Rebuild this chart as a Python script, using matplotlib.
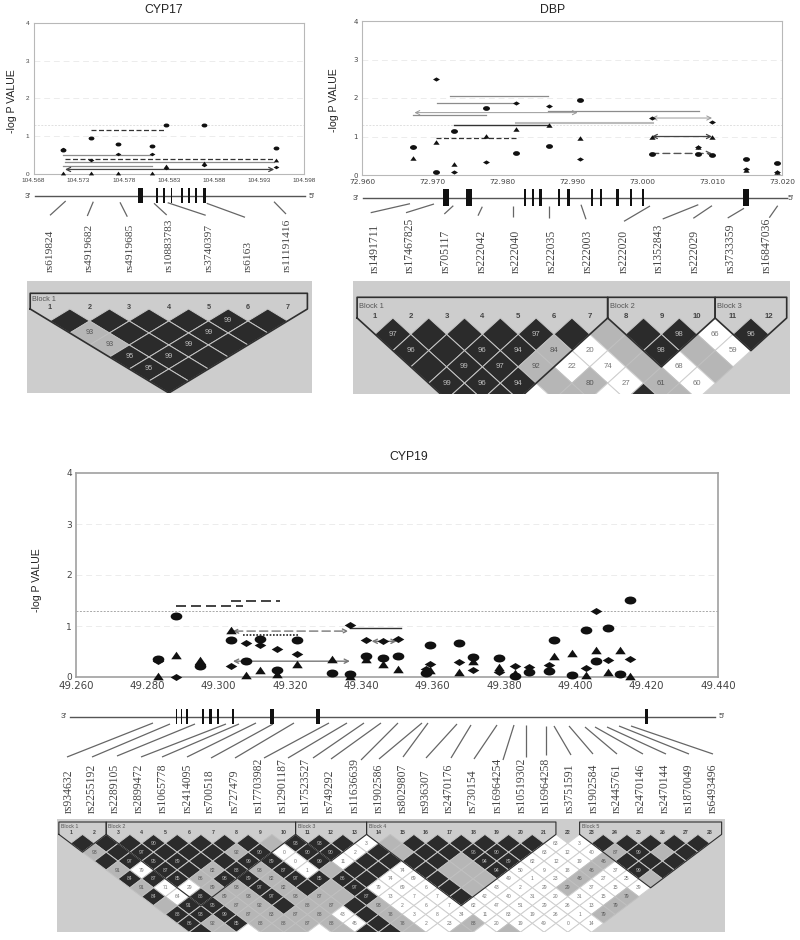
import numpy as np
import matplotlib
matplotlib.use("Agg")
import matplotlib.pyplot as plt
from matplotlib.collections import PolyCollection
from matplotlib.patches import Rectangle
from matplotlib.path import Path
from matplotlib.transforms import Affine2D

W, H = 800, 940
nan = float("nan")

# CYP17 association data
cyp17_pos = [104.5713, 104.57435, 104.57737, 104.58117, 104.58269, 104.58693, 104.5949]
cyp17_circle = [0.63, 0.96, 0.80, 0.73, 1.30, 1.29, 0.68]
cyp17_diamond = [0.65, 0.37, 0.52, 0.54, 0.15, 0.25, 0.18]
cyp17_triangle = [0.02, 0.02, 0.02, 0.03, 0.21, 0.28, 0.37]
cyp17_span_from = [104.57435, 104.5713, 104.5715, 104.5715, 104.5713, 104.5715]
cyp17_span_to = [104.58269, 104.58117, 104.5947, 104.5947, 104.58117, 104.5947]
cyp17_span_y = [1.16, 0.51, 0.40, 0.33, 0.22, 0.12]
cyp17_span_kind = ["dash", "gray", "dash", "gray", "gray", "arrow"]
cyp17_exon = [104.57985, 104.58169, 104.5825, 104.58331, 104.58446, 104.58527, 104.58604, 104.58693]
cyp17_exon_len = [0.00059, 0.00018, 0.00018, 0.00018, 0.00018, 0.00018, 0.00018, 0.00037]
cyp17_snps = ["rs619824", "rs4919682", "rs4919685", "rs10883783", "rs3740397", "rs6163", "rs11191416"]

# DBP association data
dbp_pos = [72.9673, 72.9706, 72.9732, 72.9777, 72.982, 72.9867, 72.9911, 73.0014, 73.008, 73.010, 73.0148, 73.0193]
dbp_circle = [0.74, 0.07, 1.13, 1.74, 0.56, 0.76, 1.94, 0.55, 0.54, 0.52, 0.41, 0.30]
dbp_diamond = [0.74, 2.50, 0.07, 0.34, 1.87, 1.78, 0.42, 1.48, 0.72, 1.38, 0.15, 0.09]
dbp_triangle = [0.43, 0.87, 0.29, 1.02, 1.19, 1.29, 0.95, 1.00, 0.72, 1.00, 0.13, 0.09]
dbp_span_from = [72.9726, 72.9707, 72.9866, 72.9675, 72.9673, 73.0014, 72.982, 72.9731, 73.0014, 72.9706, 73.0014]
dbp_span_to = [72.9866, 72.982, 73.0081, 72.9908, 72.9777, 73.010, 73.0016, 72.9867, 73.010, 72.982, 73.010]
dbp_span_y = [2.06, 1.88, 1.67, 1.62, 1.56, 1.48, 1.35, 1.29, 1.00, 0.95, 0.56]
dbp_span_kind = ["gray", "gray", "gray", "lightarrow", "gray", "lightarrow", "lightwide", "solid", "arrow", "dash", "dasharrow"]
dbp_exon = [72.9720, 72.9753, 72.9833, 72.9844, 72.9855, 72.9881, 72.9895, 72.9929, 72.9942, 72.9965, 72.9984, 73.0002, 73.0149]
dbp_exon_len = [0.00086, 0.00076, 0.0003, 0.0003, 0.0003, 0.0003, 0.0003, 0.0003, 0.0003, 0.0003, 0.0003, 0.0003, 0.00086]
dbp_snps = ["rs1491711", "rs17467825", "rs705117", "rs222042", "rs222040", "rs222035", "rs222003", "rs222020",
            "rs1352843", "rs222029", "rs3733359", "rs16847036"]

# CYP19 association data
cyp19_pos = [49.2831, 49.2880, 49.2948, 49.3034, 49.3076, 49.3116, 49.3164, 49.3219, 49.3317, 49.3368, 49.3413,
             49.3462, 49.3504, 49.3581, 49.3593, 49.3673, 49.3714, 49.3785, 49.3831, 49.3870, 49.3927, 49.3940,
             49.3990, 49.4031, 49.4057, 49.4091, 49.4125, 49.4154]
cyp19_circle = [0.36, 1.19, 0.22, 0.73, 0.31, 0.75, 0.14, 0.72, 0.08, 0.05, 0.42, 0.38, 0.41, 0.07, 0.63, 0.66, 0.40,
                0.38, 0.01, 0.10, 0.11, 0.72, 0.03, 0.92, 0.32, 0.97, 0.05, 1.51]
cyp19_diamond = [0.31, 0.00, 0.25, 0.22, 0.67, 0.63, 0.55, 0.46, nan, 1.01, 0.73, 0.70, 0.75, 0.16, 0.26, 0.29, 0.14,
                 0.10, 0.21, 0.20, 0.24, nan, nan, 0.18, 1.30, 0.33, nan, 0.36]
cyp19_triangle = [0.02, 0.44, 0.33, 0.93, 0.03, 0.14, 0.05, 0.25, 0.35, 0.02, 0.35, 0.25, 0.15, 0.13, 0.14, 0.10, 0.31,
                  0.20, 0.08, nan, nan, 0.42, 0.47, 0.03, 0.52, 0.09, 0.52, 0.01]
cyp19_span_from = [49.2880, 49.3034, 49.3040, 49.3068, 49.3368, 49.3040, 49.3429]
cyp19_span_to = [49.3068, 49.3172, 49.3363, 49.3222, 49.3511, 49.3368, 49.3499]
cyp19_span_y = [1.39, 1.49, 0.90, 0.82, 0.97, 0.31, 0.70]
cyp19_span_kind = ["bigdash", "bigdash", "graydasharrow", "dots", "solid", "grayarrow", "grayarrow"]
cyp19_exon = [49.2882, 49.2896, 49.2912, 49.2956, 49.2977, 49.2997, 49.3041, 49.3150, 49.3278, 49.4200]
cyp19_exon_len = [0.0005, 0.0005, 0.0005, 0.0006, 0.0006, 0.0006, 0.0005, 0.001, 0.001, 0.001]
cyp19_snps = ["rs934632", "rs2255192", "rs2289105", "rs2899472", "rs1065778", "rs2414095", "rs700518", "rs727479",
              "rs17703982", "rs12901187", "rs17523527", "rs749292", "rs11636639", "rs1902586", "rs8029807", "rs936307",
              "rs2470176", "rs730154", "rs16964254", "rs10519302", "rs16964258", "rs3751591", "rs1902584", "rs2445761",
              "rs2470146", "rs2470144", "rs1870049", "rs6493496"]

# LD cells, one string per row of the triangle (K black, G gray, W white, then the D' number)
cyp17_ld = ["K K K K K99 K", "G93 K K K99 K", "G93 K K99 K", "K95 K99 K", "K95 K", "K"]
cyp17_blocks = [(1, 7)]
dbp_ld = ["K97 K K K K97 K G K K98 W66 K96",
          "K96 K K96 K94 G84 W20 G K98 G W59",
          "K K99 K97 G92 W22 W74 G W68 G",
          "K99 K96 K94 G G80 W27 G61 W60",
          "K K W G W K G"]
dbp_blocks = [(1, 7), (8, 10), (11, 12)]
cyp19_ld = ["K K K K90 K K K K G K93 K93 K W3 G K K K K K K W63 W3 K K K K K",
            "G93 K K97 K K K G92 K90 W0 K90 K90 W2 K G K K K96 K90 K W63 W12 W40 G87 K99 G K",
            "K K97 K95 K89 K K K99 K89 W0 K99 W11 K K K K G K94 K89 W62 W12 W19 G46 K K K",
            "G91 W79 K87 K G82 K88 G93 K87 W1 G K K W74 K G G K94 W50 W9 W18 G46 W37 K99 K",
            "K84 K87 K85 G86 K98 K89 G82 K97 K85 K86 K W74 W69 K G G W49 W1 W23 G46 W27 W25 G",
            "G91 W71 W29 G89 G93 K97 G82 K G K97 W79 W69 W6 K G W43 W2 W29 G29 W37 W15 W39",
            "K84 W64 K88 G89 G93 K97 G93 G87 G K87 W73 W7 W7 K W42 W40 W31 W20 W31 W15 G79",
            "G K91 K95 G87 G92 K G88 G87 K G93 W2 W6 W7 W62 W47 W51 W29 W26 W13 G79",
            "K88 K93 K99 G87 G83 G87 G88 W43 K G78 W3 W8 W34 W11 W83 W19 W26 W1 G79",
            "K86 G92 K85 G88 G88 G87 G88 W45 K G78 W2 W23 G88 W20 W19 W49 W0 W14",
            "K G W G G W G K K G W G W G W W W"]
cyp19_blocks = [(1, 2), (3, 10), (11, 13), (14, 21), (23, 28)]

fig = plt.figure(figsize=(W / 100, H / 100), dpi=100)
fig.patch.set_facecolor("white")
plt.rcParams["font.family"] = ["Liberation Sans", "DejaVu Sans"]

# overlay in image pixels for the schematic parts
pix = fig.add_axes([0, 0, 1, 1])
pix.set_xlim(0, W)
pix.set_ylim(H, 0)
pix.axis("off")


def px_axes(x0, y0, x1, y1):
    return fig.add_axes([x0 / W, 1 - y1 / H, (x1 - x0) / W, (y1 - y0) / H])


def flat_marker(path, yscale):
    return path.transformed(Affine2D().scale(1, yscale))


ELLIPSE = flat_marker(Path.unit_circle(), 0.68)
DIAMOND = flat_marker(Path([(-1, 0), (0, 1), (1, 0), (0, -1), (-1, 0)], closed=True), 0.6)
TRIANGLE = flat_marker(Path([(-1, -1), (0, 1), (1, -1), (-1, -1)], closed=True), 0.72)

SPAN = {
    "dash": dict(color="#333333", ls=(0, (4, 2)), lw=0.9, arrow=None),
    "gray": dict(color="#8c8c8c", ls="-", lw=0.9, arrow=None),
    "arrow": dict(color="#444444", ls="-", lw=0.9, arrow="<->"),
    "solid": dict(color="#333333", ls="-", lw=1.0, arrow=None),
    "lightarrow": dict(color="#999999", ls="-", lw=0.7, arrow="<->"),
    "lightwide": dict(color="#bbbbbb", ls="-", lw=1.5, arrow=None),
    "dasharrow": dict(color="#555555", ls=(0, (5, 3)), lw=1.0, arrow="->"),
    "bigdash": dict(color="#222222", ls=(0, (6, 3)), lw=1.2, arrow=None),
    "graydasharrow": dict(color="#777777", ls=(0, (6, 3)), lw=1.0, arrow="<->"),
    "dots": dict(color="#222222", ls=(0, (1, 1)), lw=1.2, arrow=None),
    "grayarrow": dict(color="#777777", ls="-", lw=1.0, arrow="<->"),
}


def assoc_panel(box, xlim, xticks, pos, circle, diamond, triangle, span_from, span_to, span_y, span_kind,
                msize, tick_font, tick_size, ytick_size, edge, edge_w, thr_color):
    ax = px_axes(*box)
    ax.set_xlim(*xlim)
    ax.set_ylim(0, 4)
    ax.set_xticks(xticks)
    ax.set_xticklabels(["%.3f" % t for t in xticks], family=tick_font, fontsize=tick_size, color="#444444")
    ax.set_yticks([0, 1, 2, 3, 4])
    ax.set_yticklabels(["0", "1", "2", "3", "4"], family=tick_font, fontsize=ytick_size, color="#444444")
    ax.tick_params(length=0, pad=3)
    for sp in ax.spines.values():
        sp.set_color(edge)
        sp.set_linewidth(edge_w)
    for v in [1, 2, 3]:
        ax.axhline(v, color="#ececec", lw=0.7, ls=(0, (6, 4)), zorder=1)
    ax.axhline(1.3, color=thr_color, lw=0.7, ls=(0, (2, 1.5)), zorder=1)
    for a, b, y, kind in zip(span_from, span_to, span_y, span_kind):
        st = SPAN[kind]
        if st["arrow"]:
            ax.annotate("", xy=(b, y), xytext=(a, y), zorder=2,
                        arrowprops=dict(arrowstyle=st["arrow"] + ",head_length=0.3,head_width=0.15", color=st["color"],
                                        ls=st["ls"], lw=st["lw"], shrinkA=0, shrinkB=0))
        else:
            ax.plot([a, b], [y, y], color=st["color"], ls=st["ls"], lw=st["lw"], zorder=2)
    ax.plot(pos, circle, ls="", marker=ELLIPSE, ms=msize, color="#111111", mew=0, clip_on=False, zorder=3)
    ax.plot(pos, diamond, ls="", marker=DIAMOND, ms=msize, color="#111111", mew=0, clip_on=False, zorder=3)
    ax.plot(pos, triangle, ls="", marker=TRIANGLE, ms=msize * 0.9, color="#111111", mew=0, clip_on=False, zorder=3)
    return ax


def gene_track(box, xlim, exon, exon_len, line_from, line_to):
    tr = px_axes(*box)
    tr.set_xlim(*xlim)
    tr.set_ylim(0, 1)
    tr.axis("off")
    tr.plot([line_from, line_to], [0.45, 0.45], transform=tr.transAxes, color="#555555", lw=1.0, clip_on=False)
    tr.bar(exon, 1, width=exon_len, bottom=0, color="#111111", clip_on=False, zorder=3)


def snp_labels(names, xs, bottom, size, stems):
    for name, x in zip(names, xs):
        pix.text(x, bottom, name, rotation=90, ha="center", va="bottom", family="Liberation Serif", fontsize=size,
                 color="#444444")
    for x0, y0, x1, y1 in stems:
        pix.plot([x0, x1], [y0, y1], color="#666666", lw=0.9, solid_capstyle="butt")


def ld_plot(rows, blocks, x0, dx, y1, h, rect, top_y, num_y, block_y, cell_size, num_size, block_size, line_w):
    bg = Rectangle((rect[0], rect[1]), rect[2] - rect[0], rect[3] - rect[1], facecolor="#cdcdcd", edgecolor="none",
                   zorder=1)
    pix.add_patch(bg)
    polys, faces, edges = [], [], []
    face = {"K": "#2b2b2b", "G": "#b6b6b6", "W": "#ffffff"}
    edge = {"K": "#c6c6c6", "G": "#c0c0c0", "W": "#cfcfcf"}
    ink = {"K": "#bdbdbd", "G": "#555555", "W": "#777777"}
    for r, row in enumerate(rows):
        d = r + 1
        cy = y1 + r * h
        for k, cell in enumerate(row.split()):
            cx = x0 + (k + d / 2) * dx
            polys.append([(cx - dx / 2, cy), (cx, cy - h), (cx + dx / 2, cy), (cx, cy + h)])
            faces.append(face[cell[0]])
            edges.append(edge[cell[0]])
            if len(cell) > 1 and cy < rect[3] - 2:
                pix.text(cx, cy, cell[1:], ha="center", va="center", fontsize=cell_size, color=ink[cell[0]], zorder=4)
    coll = PolyCollection(polys, facecolors=faces, edgecolors=edges, linewidths=0.7, zorder=2)
    pix.add_collection(coll)
    coll.set_clip_path(bg)
    n = len(rows[0].split()) + 1
    for i in range(n):
        pix.text(x0 + i * dx, num_y, str(i + 1), ha="center", va="center", fontsize=num_size, fontweight="bold",
                 color="#444444", zorder=4)
    for num, (a, b) in enumerate(blocks):
        left = x0 + (a - 1) * dx - dx / 2
        right = x0 + (b - 1) * dx + dx / 2
        apex_x = x0 + (a + b - 2) * dx / 2
        apex_y = y1 + (b - a) * h
        line, = pix.plot([left, left, right, right, apex_x, left],
                         [y1 - h, top_y, top_y, y1 - h, apex_y, y1 - h], color="#2f2f2f", lw=line_w, zorder=3)
        line.set_clip_path(bg)
        pix.text(left + 2, block_y, "Block %d" % (num + 1), ha="left", va="center",
                 fontsize=block_size, color="#555555", zorder=4)


# CYP17
assoc_panel((33.5, 22.7, 304, 174), (104.568, 104.598), [104.568, 104.573, 104.578, 104.583, 104.588, 104.593, 104.598],
            cyp17_pos, cyp17_circle, cyp17_diamond, cyp17_triangle, cyp17_span_from, cyp17_span_to, cyp17_span_y,
            cyp17_span_kind, 4.2, "Liberation Sans", 4.6, 4.6, "#b8b8b8", 0.8, "#e0e0e0")
gene_track((33.5, 188, 304, 203), (104.568, 104.598), cyp17_exon, cyp17_exon_len, 0.005, 1.005)
snp_labels(cyp17_snps, [50, 89.3, 130, 169.3, 209, 248.3, 287.7], 272.5, 8.2,
           [(65.7, 201, 50, 215.3), (93.3, 201.7, 87.3, 216), (120, 202.3, 127.3, 216.7), (154, 203.3, 166.7, 215),
            (167.7, 202.7, 205.7, 215.3), (206.7, 203.3, 245, 217.3), (274, 201.7, 286, 214)])
ld_plot(cyp17_ld, cyp17_blocks, 50, 39.6, 321, 12, (26.7, 280.7, 311.7, 392.7), 293.3, 307.3, 299.3, 5.2, 5.2, 5.2, 1.2)

# DBP
assoc_panel((362, 21, 782, 175), (72.96, 73.02), [72.96, 72.97, 72.98, 72.99, 73.0, 73.01, 73.02],
            dbp_pos, dbp_circle, dbp_diamond, dbp_triangle, dbp_span_from, dbp_span_to, dbp_span_y,
            dbp_span_kind, 5.0, "DejaVu Sans", 5.4, 5.0, "#b8b8b8", 0.8, "#e0e0e0")
gene_track((362, 188.7, 782, 206), (72.96, 73.02), dbp_exon, dbp_exon_len, 0.002, 1.012)
snp_labels(dbp_snps, [374.3, 410, 446, 481.3, 516, 552, 587.3, 623.3, 658.3, 695, 730.7, 766.7], 273, 8.4,
           [(370.7, 212.7, 410, 203.7), (406, 212.7, 434, 204), (444.3, 214, 453.3, 205.7), (478, 215.7, 482.3, 206.7),
            (512.7, 216.7, 512.7, 205.7), (548.7, 218, 548.7, 205.7), (586, 219.3, 581, 204.7), (624, 221.3, 650, 206),
            (662.7, 219, 698.3, 204.7), (693.3, 218.3, 712, 205.7), (727.7, 218, 744, 208.3), (769.3, 217.7, 777.7, 205.7)])
ld_plot(dbp_ld, dbp_blocks, 375, 35.8, 334.3, 16.3, (353.3, 280.7, 790, 394), 297.3, 316.7, 306, 5.6, 5.6, 5.4, 1.2)

# CYP19
assoc_panel((76, 473, 718, 677), (49.26, 49.44), [49.26, 49.28, 49.30, 49.32, 49.34, 49.36, 49.38, 49.40, 49.42, 49.44],
            cyp19_pos, cyp19_circle, cyp19_diamond, cyp19_triangle, cyp19_span_from, cyp19_span_to, cyp19_span_y,
            cyp19_span_kind, 8.4, "DejaVu Sans", 7.4, 6.5, "#a0a0a0", 1.2, "#a8a8a8")
gene_track((76, 709, 718, 724), (49.26, 49.44), cyp19_exon, cyp19_exon_len, -0.01, 0.995)
snp_labels(cyp19_snps, [68.3, 91.7, 115, 139, 162.3, 187.3, 210, 235, 258.3, 282.3, 305.7, 330, 355, 379, 402.7, 426,
                        448.3, 472.7, 497.3, 521.7, 545.7, 570, 593.3, 616.7, 641, 665, 689, 712.3], 813, 8.4,
           [(67, 757, 153, 723), (92, 757, 170, 724), (117, 756, 195, 724), (141, 757, 226, 724), (162, 757, 239, 724),
            (187, 757, 256, 723), (211, 758, 273, 724), (235, 758, 294, 723), (264, 758, 329, 723), (288, 758, 347, 723),
            (313, 758, 364, 723), (331, 759, 381, 723), (361, 760, 398, 723), (379, 759, 422, 723), (403, 757, 428, 723),
            (426, 758, 457, 724), (451, 758, 471, 725), (474, 759, 497, 725), (503, 760, 514, 725), (526, 757, 526, 725),
            (546, 755, 546, 726), (571, 755, 554, 726), (593, 754, 569, 726), (617, 754, 585, 727), (643, 754, 595, 727),
            (666, 754, 607, 727), (689, 754, 619, 726), (713, 754, 631, 726)])
ld_plot(cyp19_ld, cyp19_blocks, 70.7, 23.67, 843.3, 8.9, (56.7, 819, 725, 931.7), 822, 832.7, 826.7, 3.6, 3.8, 3.8, 0.8)

# titles, axis names, gene ends
for txt, x, y in [("CYP17", 164, 10), ("DBP", 553, 10), ("CYP19", 409, 457)]:
    pix.text(x, y, txt, ha="center", va="center", fontsize=8.8, color="#222222")
for x, y in [(12, 101), (334, 100), (37, 580)]:
    pix.text(x, y, "-log P VALUE", rotation=90, ha="center", va="center", fontsize=7.6, color="#222222")
for txt, x, y in [("3'", 28, 196.5), ("5'", 312, 196.5), ("3'", 356, 198), ("5'", 791, 198), ("3'", 64, 717), ("5'", 722, 717)]:
    pix.text(x, y, txt, ha="center", va="center", fontsize=6, color="#444444")

fig.savefig("out.png", dpi=100)
